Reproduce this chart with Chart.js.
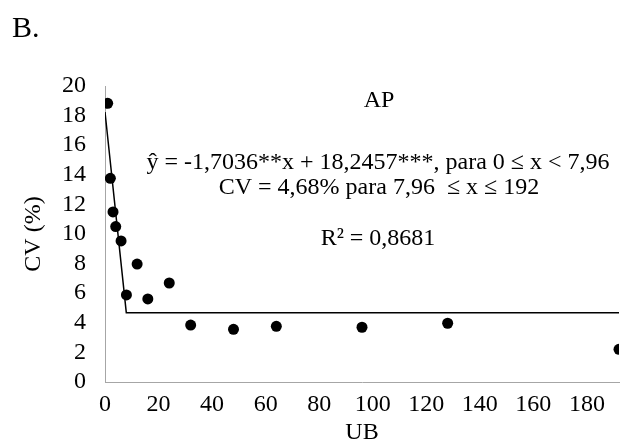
<!DOCTYPE html>
<html>
<head>
<meta charset="utf-8">
<script src="https://cdn.jsdelivr.net/npm/chart.js@4.4.1/dist/chart.umd.min.js"></script>
<style>
  html, body { margin: 0; padding: 0; background: #fff; }
  #wrap { width: 626px; height: 448px; }
</style>
</head>
<body>
<div id="wrap"><canvas id="cvChart" width="626" height="448"></canvas></div>
<script>
// observed points (UB, CV %)
const ubValues = [1, 2, 3, 4, 6, 8, 12, 16, 24, 32, 48, 64, 96, 128, 192];
const cvValues = [18.83, 13.76, 11.49, 10.5, 9.53, 5.88, 7.97, 5.61, 6.69, 3.85, 3.56, 3.76, 3.70, 3.97, 2.21];

// fitted linear-plateau model
const fitX = [0, 7.96, 192];
const fitY = [18.2457, 4.68, 4.68];

const xTicks = [0, 20, 40, 60, 80, 100, 120, 140, 160, 180];
const yTicks = [0, 2, 4, 6, 8, 10, 12, 14, 16, 18, 20];

const labels = {
  panel: "B.",
  series: "AP",
  eq1: "ŷ = -1,7036**x + 18,2457***, para 0 ≤ x < 7,96",
  eq2: "CV = 4,68% para 7,96  ≤ x ≤ 192",
  r2: "R² = 0,8681"
};

const serif = "'Liberation Serif', 'Times New Roman', serif";
const axisGray = "#a6a6a6";

// text boxes in the plot
const notes = {
  id: "notes",
  afterDraw(chart) {
    const ctx = chart.ctx;
    ctx.save();
    ctx.fillStyle = "#000";
    ctx.textBaseline = "alphabetic";
    ctx.font = "30px " + serif;
    ctx.textAlign = "left";
    ctx.fillText(labels.panel, 12, 37);
    ctx.textAlign = "center";
    ctx.font = "24px " + serif;
    ctx.fillText(labels.series, 379, 107);
    ctx.fillText(labels.eq1, 378, 169);
    ctx.fillText(labels.eq2, 379, 194);
    ctx.fillText(labels.r2, 378, 245);
    ctx.restore();
  }
};

new Chart(document.getElementById("cvChart"), {
  type: "scatter",
  data: {
    datasets: [
      {
        label: "fit",
        type: "line",
        data: fitX.map((x, i) => ({ x: x, y: fitY[i] })),
        borderColor: "#000",
        borderWidth: 1.5,
        pointRadius: 0,
        fill: false,
        tension: 0
      },
      {
        label: labels.series,
        data: ubValues.map((x, i) => ({ x: x, y: cvValues[i] })),
        backgroundColor: "#000",
        borderColor: "#000",
        pointRadius: 5.5,
        borderWidth: 0
      }
    ]
  },
  options: {
    responsive: false,
    animation: false,
    layout: { padding: { left: 10, right: 7, top: 86, bottom: 0 } },
    plugins: {
      legend: { display: false },
      tooltip: { enabled: false }
    },
    scales: {
      x: {
        type: "linear",
        min: 0,
        max: 192,
        afterBuildTicks: (scale) => {
          scale.ticks = xTicks.map(v => ({ value: v }));
        },
        afterFit: (scale) => { scale.height = 66; },
        grid: { display: false, drawTicks: true, tickLength: 5, tickColor: axisGray },
        border: { color: axisGray, width: 1 },
        ticks: { color: "#000", font: { family: serif, size: 24 }, padding: 3, maxRotation: 0, autoSkip: false },
        title: { display: true, text: "UB", color: "#000", font: { family: serif, size: 24 }, padding: { top: 0, bottom: 1 } }
      },
      y: {
        min: 0,
        max: 20,
        afterBuildTicks: (scale) => {
          scale.ticks = yTicks.map(v => ({ value: v }));
        },
        afterFit: (scale) => { scale.width = 95; },
        grid: { display: false, drawTicks: true, tickLength: 5, tickColor: axisGray },
        border: { color: axisGray, width: 1 },
        ticks: { color: "#000", font: { family: serif, size: 24 }, padding: 14, autoSkip: false },
        title: { display: true, text: "CV (%)", color: "#000", font: { family: serif, size: 24 }, padding: { top: 9, bottom: 0 } }
      }
    }
  },
  plugins: [notes]
});
</script>
</body>
</html>
